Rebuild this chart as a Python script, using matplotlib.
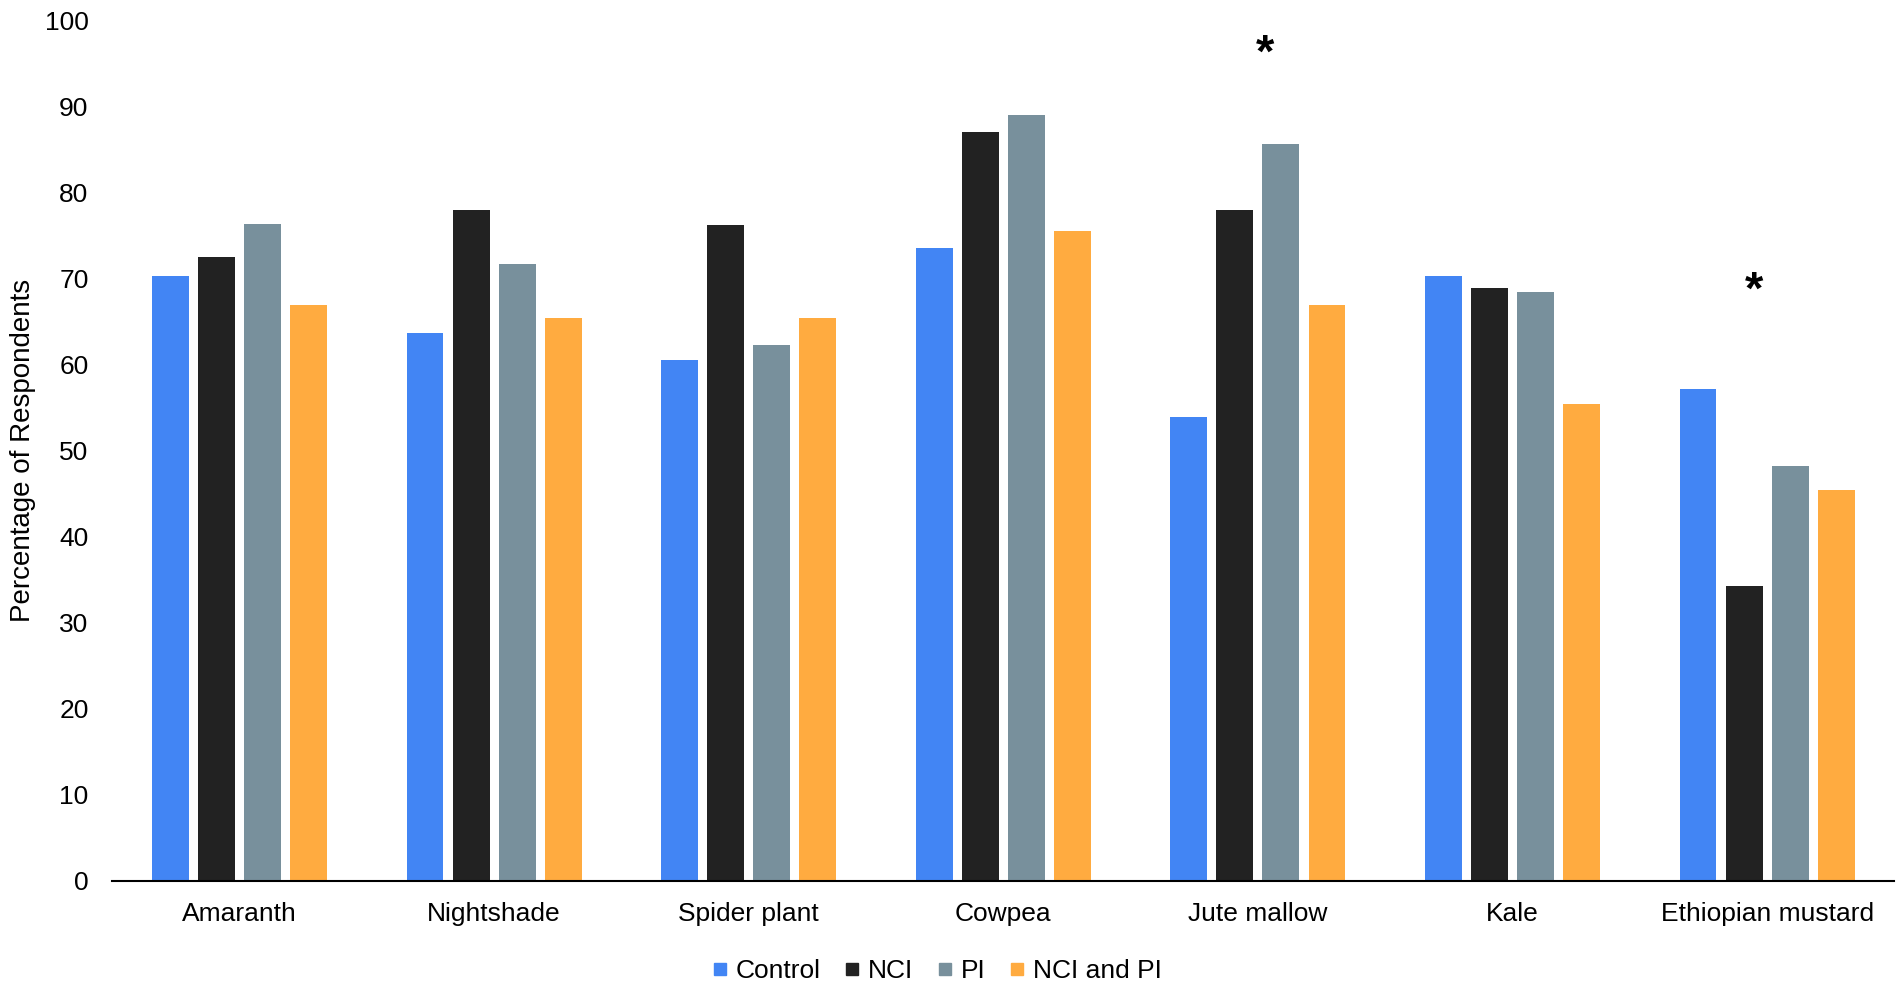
import matplotlib
matplotlib.use("Agg")
import matplotlib.pyplot as plt
from matplotlib.lines import Line2D
import numpy as np

plt.rcParams['font.family'] = ['Liberation Sans', 'DejaVu Sans']

categories = ["Amaranth", "Nightshade", "Spider plant", "Cowpea", "Jute mallow", "Kale", "Ethiopian mustard"]
series_names = ["Control", "NCI", "PI", "NCI and PI"]
control = [70.3, 63.7, 60.6, 73.6, 53.9, 70.3, 57.2]
nci = [72.5, 78.0, 76.3, 87.1, 78.0, 68.9, 34.3]
pi = [76.4, 71.7, 62.3, 89.0, 85.7, 68.5, 48.2]
nci_pi = [66.9, 65.5, 65.5, 75.5, 66.9, 55.5, 45.5]
colors = ["#4285F4", "#222222", "#78909C", "#FFAB40"]

star_categories = ["Jute mallow", "Ethiopian mustard"]
star_offsets = [0.03, -0.05]
star_values = [96.0, 68.5]

fig = plt.figure(figsize=(19.02, 9.86), dpi=100)
ax = fig.add_axes([0.059, 0.1065, 0.937, 0.8725])

x = np.arange(len(categories))
width = 0.145
step = 0.181
data = [control, nci, pi, nci_pi]
for i, (vals, c) in enumerate(zip(data, colors)):
    ax.bar(x + (i - 1.5) * step, vals, width=width, color=c, zorder=2)

for cat, off, val in zip(star_categories, star_offsets, star_values):
    ax.text(categories.index(cat) + off, val, "*", ha="center", va="center",
            fontsize=34, fontweight="bold", color="black")

ax.set_xlim(-0.5, len(categories) - 0.5)
ax.set_ylim(0, 100)
ax.set_yticks(np.arange(0, 101, 10))
ax.set_xticks(x)
ax.set_xticklabels(categories)
ax.tick_params(axis="both", length=0, labelsize=19)
ax.tick_params(axis="x", pad=15)
ax.tick_params(axis="y", pad=17)
for s in ["top", "right", "left"]:
    ax.spines[s].set_visible(False)
ax.spines["bottom"].set_color("black")
ax.spines["bottom"].set_linewidth(1.5)
ax.set_ylabel("Percentage of Respondents", fontsize=20)
ax.yaxis.set_label_coords(-0.043, 0.5)

handles = [Line2D([], [], marker="s", linestyle="none", markersize=9, color=c) for c in colors]
fig.legend(handles, series_names, loc="center", bbox_to_anchor=(0.4925, 0.015), ncol=4,
           frameon=False, fontsize=19, handlelength=0.6, handletextpad=0.3, columnspacing=0.9)

fig.savefig("out.png", dpi=100)
